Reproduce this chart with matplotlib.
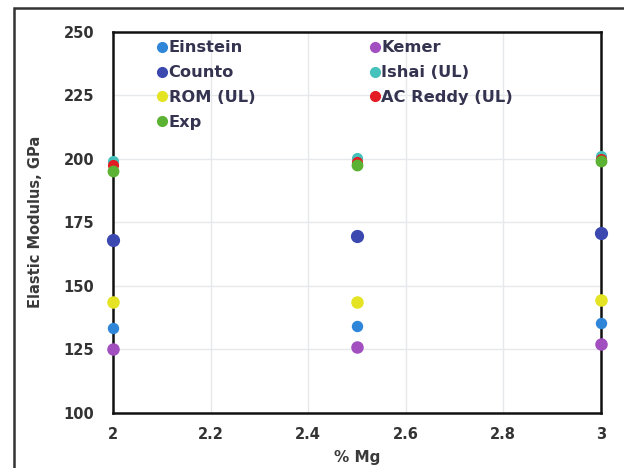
import matplotlib
matplotlib.use("Agg")
import matplotlib.pyplot as plt
from matplotlib.patches import Rectangle
from matplotlib.lines import Line2D

plt.rcParams['font.family'] = ['DejaVu Sans']

mg = [2.0, 2.5, 3.0]
series_names = ["Einstein", "Kemer", "Counto", "Ishai (UL)", "ROM (UL)", "AC Reddy (UL)", "Exp"]
einstein = [133.6, 134.4, 135.3]
kemer = [125.2, 126.0, 127.0]
counto = [168.2, 169.6, 170.6]
ishai = [199.2, 200.4, 201.0]
rom = [143.6, 143.8, 144.4]
ac_reddy = [197.6, 198.8, 199.8]
exp = [195.2, 197.4, 199.0]
x_ticks = [2, 2.2, 2.4, 2.6, 2.8, 3]
x_tick_labels = ["2", "2.2", "2.4", "2.6", "2.8", "3"]
y_ticks = [100, 125, 150, 175, 200, 225, 250]

values = [einstein, kemer, counto, ishai, rom, ac_reddy, exp]
colors = ["#2f86d8", "#a24fc0", "#3a48b0", "#45c2bb", "#e4e424", "#e31d23", "#5cb233"]
sizes = [7.2, 8, 8.5, 7, 8, 7, 7.5]

fig = plt.figure(figsize=(6.24, 4.68), dpi=100)
ax = fig.add_axes([0.181, 0.1175, 0.782, 0.815])

handles = {}
for name, vals, c, ms in zip(series_names, values, colors, sizes):
    h, = ax.plot(mg, vals, linestyle="none", marker="o", markersize=ms,
                 markerfacecolor=c, markeredgecolor=c, clip_on=False, zorder=5,
                 label=name)
    handles[name] = h

ax.set_xlim(2, 3)
ax.set_ylim(100, 250)
ax.set_xticks(x_ticks)
ax.set_xticklabels(x_tick_labels)
ax.set_yticks(y_ticks)
ax.grid(True, color="#e6e9ec", linewidth=1.0)
ax.set_axisbelow(True)
for sp in ax.spines.values():
    sp.set_color("#111111")
    sp.set_linewidth(1.8)
ax.tick_params(axis="y", length=0, pad=13.5, labelsize=10.5, labelcolor="#333333")
ax.tick_params(axis="x", length=0, pad=10, labelsize=10.5, labelcolor="#333333")
for lab in ax.get_xticklabels() + ax.get_yticklabels():
    lab.set_fontweight("bold")

ax.set_xlabel("% Mg", fontsize=11, fontweight="bold", color="#3a3a3a", labelpad=6)
ax.set_ylabel("Elastic Modulus, GPa", fontsize=10.5, fontweight="bold", color="#3a3a3a", labelpad=15)

order = ["Einstein", "Counto", "ROM (UL)", "Exp", "Kemer", "Ishai (UL)", "AC Reddy (UL)"]
leg_handles = [Line2D([], [], linestyle="none", marker="o", markersize=7,
                      markerfacecolor=handles[n].get_markerfacecolor(),
                      markeredgecolor=handles[n].get_markeredgecolor()) for n in order]
leg = ax.legend(leg_handles, order, ncol=2, loc="upper left",
                bbox_to_anchor=(0.06, 1.015), frameon=False,
                handlelength=0.6, handletextpad=0.12, columnspacing=7.05,
                labelspacing=0.6, prop={"weight": "bold", "size": 11.7})
for t in leg.get_texts():
    t.set_color("#343450")

fig.add_artist(Rectangle((14 / 624, -0.05), 1.1, 1 - 8 / 468 + 0.05,
                         transform=fig.transFigure, fill=False,
                         edgecolor="#333333", linewidth=1.8))

fig.savefig("out.png", dpi=100)
